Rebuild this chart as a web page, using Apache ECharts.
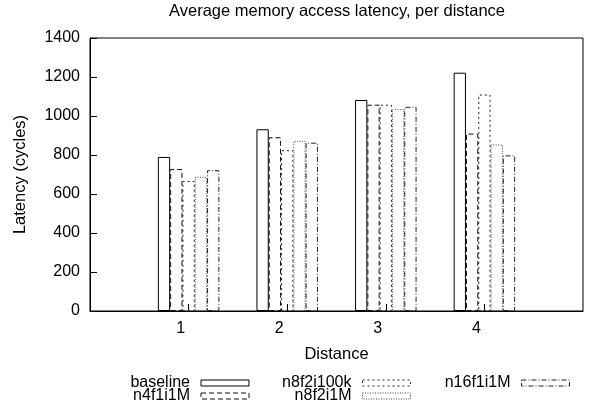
<!DOCTYPE html>
<html>
<head>
<meta charset="utf-8">
<script src="https://cdn.jsdelivr.net/npm/echarts@6/dist/echarts.min.js"></script>
<style>html,body{margin:0;padding:0;background:#fff}#c{width:592px;height:416px}</style>
</head>
<body>
<div id="c"></div>
<script>
// Data
const categories = ['', '1', '2', '3', '4', ''];
const seriesNames = ['baseline', 'n4f1i1M', 'n8f2i100k', 'n8f2i1M', 'n16f1i1M'];
const baseline  = [null, 790, 932, 1082, 1222, null];
const n4f1i1M   = [null, 728, 891, 1058, 910, null];
const n8f2i100k = [null, 667, 825, 1058, 1110, null];
const n8f2i1M   = [null, 688, 873, 1035, 854, null];
const n16f1i1M  = [null, 722, 863, 1047, 798, null];
const yTicks = { min: 0, max: 1400, interval: 200 };

const values = [baseline, n4f1i1M, n8f2i100k, n8f2i1M, n16f1i1M];
const dashes = ['solid', [5, 3], [2, 3], [1, 1.5], [5, 2, 1, 2]];
const colors = ['#000', '#111', '#222', '#444', '#222'];
const FONT = 'Liberation Sans';

const chart = echarts.init(document.getElementById('c'), null, { renderer: 'canvas' });

const series = seriesNames.map((name, i) => ({
  name: name,
  type: 'bar',
  data: values[i],
  barWidth: 12.3,
  barGap: '0%',
  itemStyle: { color: 'rgba(255,255,255,0)', borderColor: colors[i], borderWidth: 1, borderType: dashes[i] },
  emphasis: { disabled: true },
  animation: false
}));

function legendData(names) {
  return names.map(n => {
    const i = seriesNames.indexOf(n);
    return { name: n, icon: 'rect', itemStyle: { color: 'rgba(255,255,255,0)', borderColor: colors[i], borderWidth: 1, borderType: dashes[i] } };
  });
}
const legendCommon = {
  orient: 'vertical', align: 'right', top: 375, padding: 0, itemGap: -3,
  itemWidth: 48, itemHeight: 6, selectedMode: false,
  textStyle: { fontFamily: FONT, fontSize: 16, color: '#000', lineHeight: 16, padding: [0, 6, 0, 0] }
};

chart.setOption({
  animation: false,
  title: {
    text: 'Average memory access latency, per distance',
    left: 337, top: 3, textAlign: 'center', padding: 0,
    textStyle: { fontFamily: FONT, fontSize: 16.5, fontWeight: 'normal', color: '#000' }
  },
  legend: [
    Object.assign({}, legendCommon, { right: 342.5, data: legendData(['baseline', 'n4f1i1M']) }),
    Object.assign({}, legendCommon, { right: 181, data: legendData(['n8f2i100k', 'n8f2i1M']) }),
    Object.assign({}, legendCommon, { right: 22, data: legendData(['n16f1i1M']) })
  ],
  grid: { left: 90, right: 9, top: 38, bottom: 105, show: true, borderColor: '#000', borderWidth: 1, containLabel: false },
  xAxis: {
    type: 'category', data: categories, boundaryGap: false,
    name: 'Distance', nameLocation: 'middle', nameGap: 35,
    nameTextStyle: { fontFamily: FONT, fontSize: 16.5, color: '#000' },
    axisLine: { show: true, lineStyle: { color: '#000', width: 1 } },
    axisTick: { show: true, inside: true, length: 7, lineStyle: { color: '#000' }, interval: (idx) => idx >= 1 && idx <= 4 },
    axisLabel: { interval: 0, margin: 10, fontFamily: FONT, fontSize: 16, color: '#000', padding: [0, 16, 0, 0] },
    splitLine: { show: false }
  },
  yAxis: {
    type: 'value', min: yTicks.min, max: yTicks.max, interval: yTicks.interval,
    name: 'Latency (cycles)', nameLocation: 'middle', nameGap: 61,
    nameTextStyle: { fontFamily: FONT, fontSize: 16.5, color: '#000' },
    axisLine: { show: true, lineStyle: { color: '#000', width: 1 } },
    axisTick: { show: true, inside: true, length: 7, lineStyle: { color: '#000' } },
    axisLabel: { margin: 10, fontFamily: FONT, fontSize: 16, color: '#000', formatter: (v) => String(v) },
    splitLine: { show: false }
  },
  series: series
});
</script>
</body>
</html>
